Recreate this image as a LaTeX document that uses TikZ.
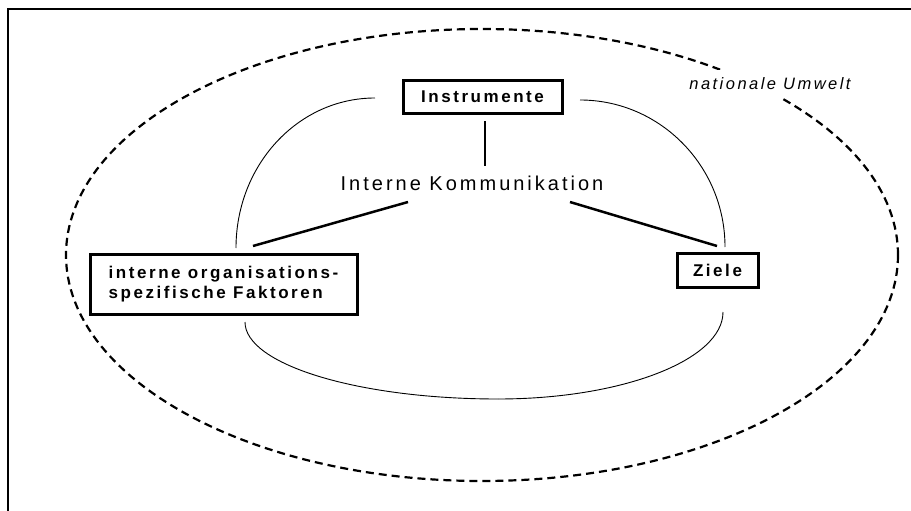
\documentclass[tikz,border=0pt]{standalone}
\usepackage{fontspec}
\setmainfont{Liberation Sans}
\newfontfamily\trackfont[LetterSpace=15]{Liberation Sans}
\begin{document}
\begin{tikzpicture}[x=1pt,y=-1pt,
  factorbox/.style={draw, line width=3pt, inner sep=0pt,
    font=\trackfont\bfseries\fontsize{17}{20}\selectfont},
  centretext/.style={inner sep=0pt, font=\trackfont\fontsize{20}{23}\selectfont},
  envtext/.style={fill=white, inner xsep=10pt, inner ysep=8pt,
    font=\trackfont\itshape\fontsize{16.5}{19}\selectfont},
  spoke/.style={line width=2.5pt},
  loop/.style={line width=0.9pt},
  envline/.style={line width=2.2pt, dash pattern=on 8pt off 5pt}]
\useasboundingbox (0,0) rectangle (911,511);
\fill[white] (0,0) rectangle (911,511);
% outer frame (open to the right and bottom)
\draw[line width=2pt] (8,511) -- (8,9) -- (911,9);
% national environment
\draw[envline] (482,255) ellipse [x radius=416, y radius=226];
\node[envtext, anchor=base] (umw) at (770,90) {nationale Umwelt};
% factor boxes
\node[factorbox, minimum width=159pt, minimum height=32pt] (ins) at (482.5,97) {Instrumente};
\node[factorbox, minimum width=267pt, minimum height=60pt,
  align=left] (fak) at (223.5,284) {interne organisations-\\spezifische Faktoren};
\node[factorbox, minimum width=81pt, minimum height=34pt] (ziele) at (717.5,270) {Ziele};
\node[centretext, anchor=base] (kom) at (472,190) {Interne Kommunikation};
% spokes from the centre
\coordinate (insfoot) at (485,121);
\coordinate (komtop) at (485,166);
\coordinate (komleft) at (408,202);
\coordinate (komright) at (570,202);
\coordinate (fakhead) at (253,246);
\coordinate (zielehead) at (717,246);
\draw[spoke] (insfoot) -- (komtop);
\draw[spoke] (komleft) -- (fakhead);
\draw[spoke] (komright) -- (zielehead);
% loops between the factors
\coordinate (insL) at (375,98);
\coordinate (insR) at (580,100);
\coordinate (fakT) at (236,248);
\coordinate (fakB) at (245,322);
\coordinate (zieleT) at (725,247);
\coordinate (zieleB) at (723,312);
\coordinate (loopbase) at (498,399);
\draw[loop] (insL) .. controls (298,98) and (236,165) .. (fakT);
\draw[loop] (insR) .. controls (660,100) and (725,166) .. (zieleT);
\draw[loop] (fakB) .. controls (245,364.5) and (358,399) .. (loopbase);
\draw[loop] (loopbase) .. controls (622,399) and (723,360) .. (zieleB);
\end{tikzpicture}
\end{document}
